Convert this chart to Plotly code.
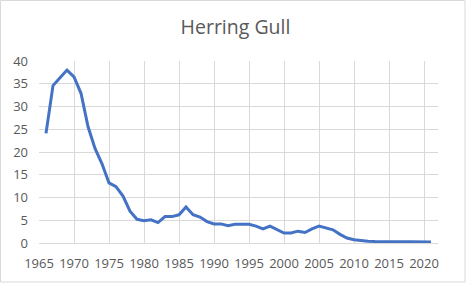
import plotly.graph_objects as go

years = list(range(1966, 2022))
values = [24.1, 34.6, 36.3, 38.0, 36.5, 32.9, 25.6, 20.8, 17.4, 13.2,
          12.4, 10.3, 7.0, 5.2, 4.9, 5.1, 4.5, 5.8, 5.8, 6.2,
          7.9, 6.2, 5.7, 4.7, 4.2, 4.2, 3.8, 4.1, 4.1, 4.1,
          3.7, 3.1, 3.7, 2.9, 2.2, 2.2, 2.6, 2.3, 3.1, 3.7,
          3.3, 2.9, 1.9, 1.1, 0.7, 0.5, 0.4, 0.35, 0.3, 0.35,
          0.3, 0.3, 0.3, 0.3, 0.25, 0.2]

W, H = 471, 283
L, R, T, B = 39, 33, 61, 40
pw, ph = W - L - R, H - T - B

fig = go.Figure(go.Scatter(x=years, y=values, mode="lines",
                           line=dict(color="#4472C4", width=3)))

fig.update_layout(
    width=W, height=H,
    paper_bgcolor="white", plot_bgcolor="white",
    margin=dict(l=L, r=R, t=T, b=B),
    showlegend=False,
    title=dict(text="Herring Gull", x=0.5, xanchor="center", y=1 - 27 / H, yanchor="middle",
               font=dict(family="Open Sans", size=19.5, color="#595959")),
    font=dict(family="Open Sans", size=13, color="#595959"),
    shapes=[dict(type="rect", xref="paper", yref="paper",
                 x0=(0.5 - L) / pw, x1=(465 - L) / pw,
                 y0=(H - B - 282) / ph, y1=(H - B - 0.5) / ph,
                 line=dict(color="#d9d9d9", width=1))],
)
fig.update_xaxes(range=[1965, 2022], tick0=1965, dtick=5, showgrid=True,
                 gridcolor="#d9d9d9", gridwidth=1, showline=True, linecolor="#d9d9d9",
                 zeroline=False, ticks="", ticklabelstandoff=8,
                 tickfont=dict(size=13, color="#595959"))
fig.update_yaxes(range=[0, 40], dtick=5, showgrid=True, gridcolor="#d9d9d9",
                 gridwidth=1, zeroline=False, showline=False, ticks="",
                 ticklabelstandoff=10,
                 tickfont=dict(size=13, color="#595959"))

fig.write_html("out.html")
